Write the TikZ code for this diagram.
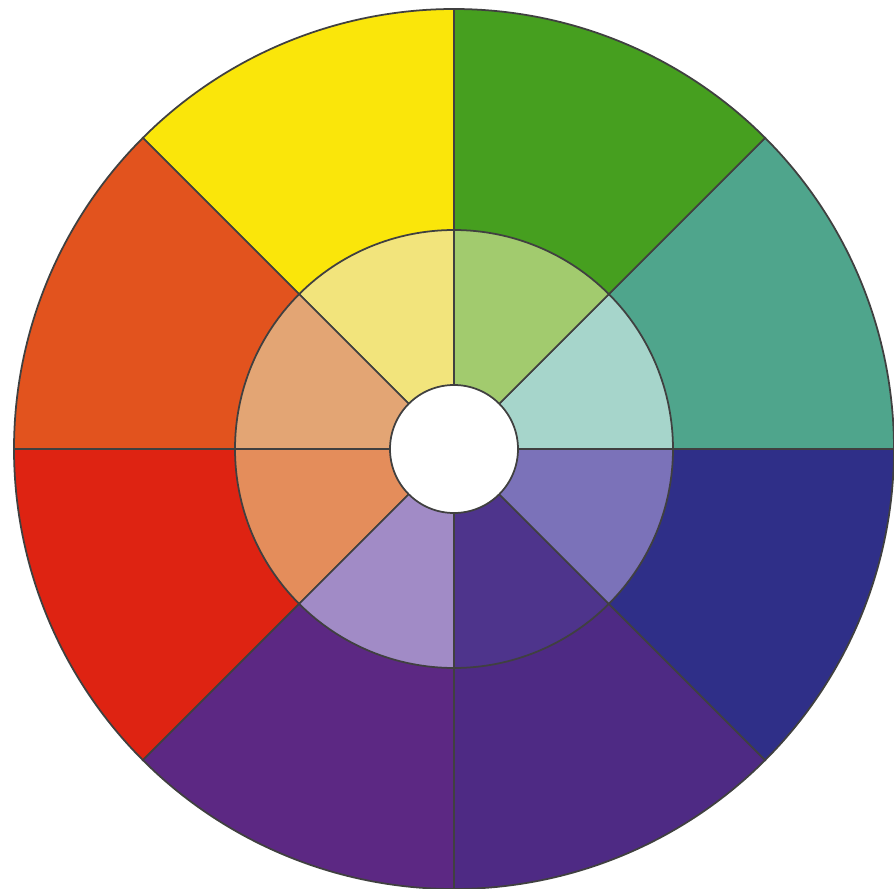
\documentclass[tikz,border=0pt]{standalone}
\usepackage{xcolor}
\usepackage{tikz}
\definecolor{outA}{HTML}{4FA58C}
\definecolor{outB}{HTML}{469F1F}
\definecolor{outC}{HTML}{FAE60A}
\definecolor{outD}{HTML}{E2531E}
\definecolor{outE}{HTML}{DE2312}
\definecolor{outF}{HTML}{5C2883}
\definecolor{outG}{HTML}{4E2A84}
\definecolor{outH}{HTML}{2F2F88}
\definecolor{inA}{HTML}{A6D5CB}
\definecolor{inB}{HTML}{A2CB6E}
\definecolor{inC}{HTML}{F2E47C}
\definecolor{inD}{HTML}{E3A574}
\definecolor{inE}{HTML}{E48D5B}
\definecolor{inF}{HTML}{A18BC6}
\definecolor{inG}{HTML}{4E348C}
\definecolor{inH}{HTML}{7B72B9}

\begin{document}
\begin{tikzpicture}[
  sector/.style={draw=black!75, line width=0.5pt, fill=#1},
  sector/.default=white]
\useasboundingbox (0,0) rectangle (8.94,8.88);
\coordinate (c) at (4.54,4.39);
% outer ring, then middle ring, then the hole
\foreach \a/\o/\i in {0/outA/inA, 45/outB/inB, 90/outC/inC, 135/outD/inD,
                      180/outE/inE, 225/outF/inF, 270/outG/inG, 315/outH/inH} {
  \draw[sector=\o] (c) -- ++(\a:4.40) arc[start angle=\a, end angle=\a+45, radius=4.40] -- cycle;
}
\foreach \a/\o/\i in {0/outA/inA, 45/outB/inB, 90/outC/inC, 135/outD/inD,
                      180/outE/inE, 225/outF/inF, 270/outG/inG, 315/outH/inH} {
  \draw[sector=\i] (c) -- ++(\a:2.19) arc[start angle=\a, end angle=\a+45, radius=2.19] -- cycle;
}
\draw[sector] (c) circle[radius=0.64];
\end{tikzpicture}
\end{document}
